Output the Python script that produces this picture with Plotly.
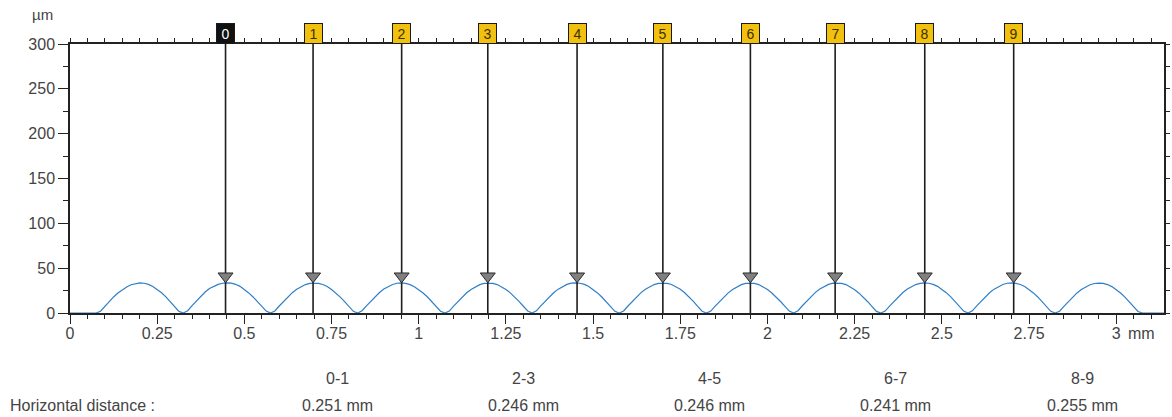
import plotly.graph_objects as go

# ---------------- data ----------------
step_mm = 0.0125  # sampling step of the profile along x

profile_um = [
    0, 0, 0, 0, 0, 0, 0,
    2.0, 7.5, 12.8, 17.9, 22.2, 26.0, 29.1, 31.5, 32.9, 33.6, 33.2, 31.9, 29.6, 26.5, 22.6, 18.0, 12.9, 7.2, 1.8, 0,
    2.6, 8.2, 13.4, 18.6, 23.4, 27.3, 29.8, 31.9, 33.2, 33.7, 33.3, 32.0, 29.7, 26.4, 22.4, 17.9, 12.8, 7.4, 2.1, 0,
    2.3, 7.8, 13.1, 18.2, 22.7, 26.4, 29.4, 31.7, 33.1, 33.5, 33.1, 31.8, 29.5, 26.2, 22.3, 17.7, 12.6, 7.1, 1.9, 0,
    2.5, 8.0, 13.3, 18.4, 22.9, 26.7, 29.6, 31.8, 33.2, 33.6, 33.0, 31.6, 29.3, 26.1, 22.2, 17.8, 12.7, 7.3, 2.0, 0,
    2.2, 7.7, 13.0, 18.1, 22.6, 26.3, 29.3, 31.6, 33.0, 33.4, 33.0, 31.7, 29.4, 26.3, 22.5, 18.1, 13.0, 7.5, 2.2, 0,
    2.4, 7.9, 13.2, 18.3, 22.8, 26.6, 29.6, 31.9, 33.3, 33.7, 33.2, 31.9, 29.6, 26.4, 22.4, 17.8, 12.7, 7.2, 1.9, 0,
    2.3, 7.8, 13.1, 18.2, 22.7, 26.5, 29.5, 31.7, 33.1, 33.5, 33.1, 31.8, 29.6, 26.5, 22.6, 18.0, 12.9, 7.3, 2.0, 0,
    2.1, 7.6, 12.9, 18.0, 22.5, 26.3, 29.3, 31.6, 33.0, 33.4, 33.0, 31.7, 29.4, 26.2, 22.3, 17.8, 12.8, 7.4, 2.1, 0,
    2.5, 8.1, 13.4, 18.5, 23.0, 26.8, 29.7, 31.9, 33.3, 33.6, 33.1, 31.7, 29.3, 26.0, 22.1, 17.6, 12.6, 7.1, 1.8, 0,
    2.2, 7.7, 13.0, 18.1, 22.6, 26.4, 29.4, 31.7, 33.1, 33.6, 33.2, 31.9, 29.7, 26.6, 22.7, 18.2, 13.1, 7.5, 2.2, 0,
    2.4, 7.9, 13.2, 18.3, 22.8, 26.6, 29.5, 31.8, 33.2, 33.6, 33.1, 31.8, 29.5, 26.3, 22.4, 17.9, 12.8, 7.2, 1.9, 0,
    2.0, 7.4, 12.7, 17.8, 22.4, 26.2, 29.2, 31.5, 32.9, 33.4, 33.0, 31.7, 29.4, 26.2, 22.3, 17.7, 12.6, 7.0, 1.7,
    0, 0, 0, 0, 0, 0,
]
x_mm = [round(i * step_mm, 4) for i in range(len(profile_um))]

marker_x_mm = [0.446, 0.697, 0.951, 1.198, 1.454, 1.700, 1.951, 2.194, 2.451, 2.706]
marker_labels = ["0", "1", "2", "3", "4", "5", "6", "7", "8", "9"]
marker_y_um = 41

pair_labels = ["0-1", "2-3", "4-5", "6-7", "8-9"]
pair_distances = ["0.251 mm", "0.246 mm", "0.246 mm", "0.241 mm", "0.255 mm"]

x_tick_vals = [0, 0.25, 0.5, 0.75, 1, 1.25, 1.5, 1.75, 2, 2.25, 2.5, 2.75, 3]
x_tick_text = ["0", "0.25", "0.5", "0.75", "1", "1.25", "1.5", "1.75", "2", "2.25", "2.5", "2.75", "3"]
y_tick_vals = [0, 50, 100, 150, 200, 250, 300]
y_tick_text = ["0", "50", "100", "150", "200", "250", "300"]

x_range = [0, 3.137]
y_range = [0, 300]

# ---------------- layout constants ----------------
W, H = 1172, 417
ML, MR, MT, MB = 70, 4, 44, 104
PW, PH = W - ML - MR, H - MT - MB

def px_x(px):
    return (px - ML) / PW

def px_y(py):
    return (H - MB - py) / PH

FONT = "Liberation Sans, Arial, sans-serif"
TXT = "#444444"
AX = "#222222"
GOLD = "#F2C00F"

fig = go.Figure()

# profile curve
fig.add_trace(go.Scatter(
    x=x_mm, y=profile_um, mode="lines",
    line=dict(color="#2f7fc8", width=1.2),
    hoverinfo="skip", showlegend=False,
))

# vertical marker lines
vx, vy = [], []
for m in marker_x_mm:
    vx += [m, m, None]
    vy += [y_range[0], y_range[1], None]
fig.add_trace(go.Scatter(
    x=vx, y=vy, mode="lines",
    line=dict(color="#1e1e1e", width=1.6),
    hoverinfo="skip", showlegend=False,
))

# triangle markers
fig.add_trace(go.Scatter(
    x=marker_x_mm, y=[marker_y_um] * len(marker_x_mm), mode="markers",
    marker=dict(symbol="triangle-down", size=13, color="#808080",
                line=dict(color="#2a2a2a", width=1)),
    hoverinfo="skip", showlegend=False,
))

# invisible trace to anchor mirror axes
fig.add_trace(go.Scatter(
    x=[x_range[0]], y=[y_range[0]], xaxis="x2", yaxis="y2", mode="markers",
    marker=dict(opacity=0), hoverinfo="skip", showlegend=False,
))

annotations = []
annotations.append(dict(
    x=x_range[0], y=px_y(15), xref="x", yref="paper", text="µm",
    showarrow=False, font=dict(family=FONT, size=15, color=TXT),
    xanchor="right", yanchor="middle", xshift=-15,
))
annotations.append(dict(
    x=3, y=px_y(333), xref="x", yref="paper", text="mm",
    showarrow=False, font=dict(family=FONT, size=16, color=TXT),
    xanchor="left", yanchor="middle", xshift=10,
))
for m, lab in zip(marker_x_mm, marker_labels):
    first = lab == "0"
    annotations.append(dict(
        x=m, y=1, xref="x", yref="paper", text=lab, showarrow=False,
        xanchor="center", yanchor="bottom", yshift=0,
        font=dict(family=FONT, size=14, color="#ffffff" if first else "#3d3000"),
        bgcolor="#111111" if first else GOLD,
        bordercolor="#1a1a1a", borderwidth=1, borderpad=1,
        width=15, height=17,
    ))

col_x0, col_step = 338, 187
for i, (pl, pd) in enumerate(zip(pair_labels, pair_distances)):
    cx = px_x(col_x0 + i * col_step)
    annotations.append(dict(
        x=cx, y=px_y(378), xref="paper", yref="paper", text=pl, showarrow=False,
        font=dict(family=FONT, size=16, color=TXT), xanchor="center", yanchor="middle",
    ))
    annotations.append(dict(
        x=cx, y=px_y(405), xref="paper", yref="paper", text=pd, showarrow=False,
        font=dict(family=FONT, size=16, color=TXT), xanchor="center", yanchor="middle",
    ))
annotations.append(dict(
    x=px_x(8), y=px_y(405), xref="paper", yref="paper", text="Horizontal distance :",
    showarrow=False, font=dict(family=FONT, size=16, color=TXT),
    xanchor="left", yanchor="middle",
))

fig.update_layout(
    width=W, height=H, autosize=False,
    margin=dict(l=ML, r=MR, t=MT, b=MB, pad=0),
    paper_bgcolor="white", plot_bgcolor="white",
    showlegend=False,
    font=dict(family=FONT, size=16, color=TXT),
    xaxis=dict(
        range=x_range, tickmode="array", tickvals=x_tick_vals, ticktext=x_tick_text,
        ticks="outside", ticklen=9, tickwidth=1, tickcolor=AX,
        minor=dict(tickmode="linear", tick0=0, dtick=0.05, ticks="outside",
                   ticklen=4, tickwidth=1, tickcolor=AX),
        showline=True, linecolor=AX, linewidth=1.5,
        showgrid=False, zeroline=False, layer="below traces",
        tickfont=dict(family=FONT, size=16, color=TXT),
        ticklabelstandoff=-4,
    ),
    yaxis=dict(
        range=y_range, tickmode="array", tickvals=y_tick_vals, ticktext=y_tick_text,
        ticks="outside", ticklen=10, tickwidth=1, tickcolor=AX,
        minor=dict(tickmode="linear", tick0=0, dtick=25, ticks="outside",
                   ticklen=5, tickwidth=1, tickcolor=AX),
        showline=True, linecolor=AX, linewidth=1.5,
        showgrid=False, zeroline=False, layer="below traces",
        tickfont=dict(family=FONT, size=16, color=TXT),
        ticklabelstandoff=0,
    ),
    xaxis2=dict(
        range=x_range, overlaying="x", side="top", anchor="y2",
        tickmode="linear", tick0=0, dtick=0.05, ticks="outside",
        ticklen=4, tickwidth=1, tickcolor=AX, showticklabels=False,
        showline=True, linecolor=AX, linewidth=1.5,
        showgrid=False, zeroline=False,
    ),
    yaxis2=dict(
        range=y_range, overlaying="y", side="right", anchor="x2",
        tickmode="linear", tick0=0, dtick=25, ticks="outside",
        ticklen=4, tickwidth=1, tickcolor=AX, showticklabels=False,
        showline=True, linecolor=AX, linewidth=1.5,
        showgrid=False, zeroline=False,
    ),
    annotations=annotations,
)

fig.write_html(
    "out.html",
    config={"displayModeBar": False},
    post_script="document.body.style.margin='0';document.body.style.overflow='hidden';",
)
